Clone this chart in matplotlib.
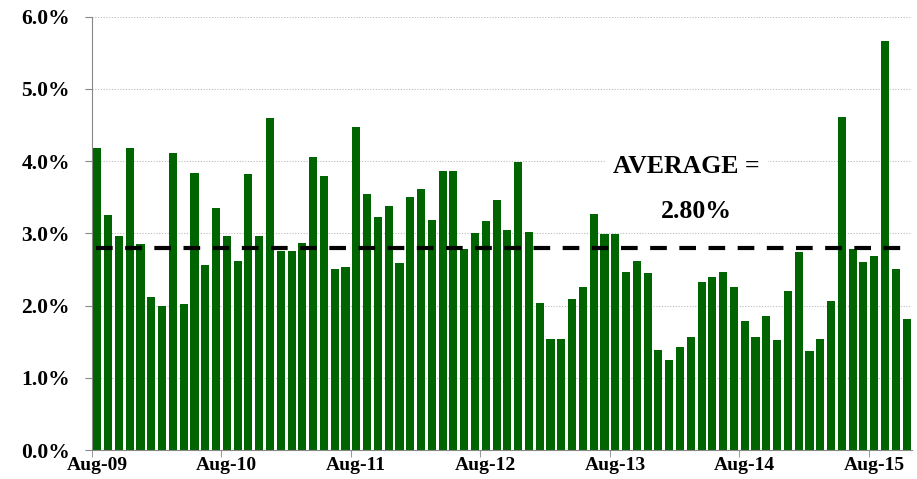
import numpy as np
import matplotlib
matplotlib.use('Agg')
import matplotlib.pyplot as plt
from matplotlib.ticker import FuncFormatter, FixedLocator

# monthly values, Aug-09 .. Nov-15 (percent)
values = [4.18, 3.26, 2.96, 4.18, 2.85, 2.12, 1.99, 4.12, 2.02, 3.84, 2.56, 3.35,
          2.96, 2.62, 3.82, 2.97, 4.60, 2.75, 2.75, 2.87, 4.06, 3.80, 2.50, 2.53,
          4.48, 3.54, 3.23, 3.38, 2.59, 3.51, 3.62, 3.18, 3.87, 3.87, 2.79, 3.00,
          3.17, 3.46, 3.05, 3.99, 3.02, 2.03, 1.54, 1.54, 2.09, 2.26, 3.27, 2.99,
          2.99, 2.46, 2.62, 2.45, 1.39, 1.25, 1.42, 1.56, 2.33, 2.40, 2.47, 2.26,
          1.79, 1.57, 1.86, 1.52, 2.20, 2.74, 1.37, 1.54, 2.07, 4.61, 2.79, 2.61,
          2.69, 5.66, 2.51, 1.82]
tick_labels = ['Aug-09', 'Aug-10', 'Aug-11', 'Aug-12', 'Aug-13', 'Aug-14', 'Aug-15']
average = 2.80

serif = 'Liberation Serif'
x = np.arange(len(values))

fig = plt.figure(figsize=(9.17, 4.79), dpi=100)
ax = fig.add_axes([0.1003, 0.0605, 0.8942, 0.9045])

ax.bar(x, values, width=0.75, color='#006400', zorder=2)
ax.axhline(average, xmin=0.005, xmax=0.988, color='black', lw=3,
           linestyle=(0, (4, 3)), zorder=3)

ax.set_xlim(-0.5, len(values) - 0.5)
ax.set_ylim(0, 6)
ax.set_yticks(np.arange(0, 7, 1))
ax.yaxis.set_major_formatter(FuncFormatter(lambda v, p: '%.1f%%' % v))
ax.grid(axis='y', color='#bbbbbb', linestyle=(0, (1, 1.5)), lw=0.8, zorder=0)
ax.set_axisbelow(True)

ax.set_xticks(x[::12])
ax.set_xticklabels(tick_labels)
ax.xaxis.set_minor_locator(FixedLocator(x[::12] - 0.5))
ax.tick_params(axis='x', which='major', length=0, pad=5)
ax.tick_params(axis='x', which='minor', length=5, color='#888888')
ax.tick_params(axis='y', length=5, color='#888888', pad=11)

for lab in ax.get_xticklabels():
    lab.set_fontfamily(serif)
    lab.set_fontweight('bold')
    lab.set_fontsize(14)
for lab in ax.get_yticklabels():
    lab.set_fontfamily(serif)
    lab.set_fontweight('bold')
    lab.set_fontsize(15.5)

for s in ['top', 'right']:
    ax.spines[s].set_visible(False)
for s in ['left', 'bottom']:
    ax.spines[s].set_color('#888888')

ax.text(54.6, 3.92, 'AVERAGE =', fontfamily=serif, fontweight='bold', fontsize=18.5,
        ha='center', va='center', zorder=4,
        bbox=dict(facecolor='white', edgecolor='none', pad=6))
ax.text(55.5, 3.3, '2.80%', fontfamily=serif, fontweight='bold', fontsize=18.5,
        ha='center', va='center', zorder=4)

fig.savefig('out.png', dpi=100)
